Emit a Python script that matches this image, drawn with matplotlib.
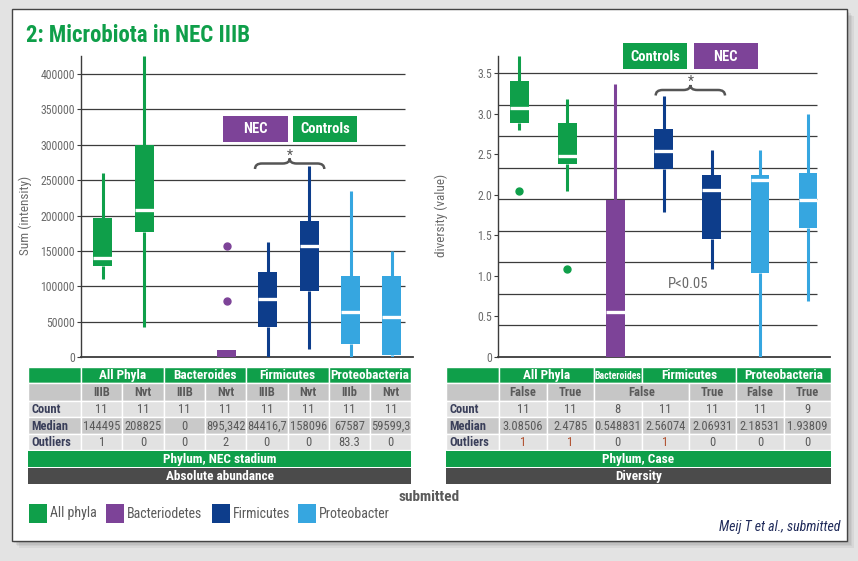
import numpy as np
import matplotlib
matplotlib.use("Agg")
import matplotlib.pyplot as plt
from matplotlib.patches import Rectangle, PathPatch
from matplotlib.path import Path
from matplotlib import font_manager

names = set(f.name for f in font_manager.fontManager.ttflist)
fam = [n for n in ['Roboto Condensed', 'Liberation Sans Narrow', 'Arial Narrow', 'Roboto'] if n in names]
plt.rcParams['font.family'] = fam + ['DejaVu Sans']

GREEN = '#0f9f4a'
PURPLE = '#7d4398'
DBLUE = '#0d3d8b'
LBLUE = '#36a6e0'
TXT = '#5a5a5a'
NAVY = '#3a3f5a'
GRID = '#3c3c3c'

# ---- absolute abundance (left panel) ----
ab_colors = [GREEN, GREEN, PURPLE, PURPLE, DBLUE, DBLUE, LBLUE, LBLUE]
ab_q1 = [128000, 176000, 0, 0, 42000, 93000, 18000, 3000]
ab_med = [140000, 208000, 0, 0, 82000, 157000, 64000, 57000]
ab_q3 = [197000, 300000, 0, 10000, 120000, 192000, 114000, 114000]
ab_lo = [110000, 42000, 0, 0, 0, 12000, 0, 0]
ab_hi = [260000, 425000, 0, 10000, 163000, 270000, 234000, 150000]
ab_fliers = [[], [], [], [157000, 79000], [], [], [], []]

ab_groups = ['All Phyla', 'Bacteroides', 'Firmicutes', 'Proteobacteria']
ab_group_span = [2, 2, 2, 2]
ab_sub = ['IIIB', 'Nvt', 'IIIB', 'Nvt', 'IIIB', 'Nvt', 'IIIb', 'Nvt']
ab_sub_span = [1, 1, 1, 1, 1, 1, 1, 1]
ab_count = ['11', '11', '11', '11', '11', '11', '11', '11']
ab_median = ['144495', '208825', '0', '895,342', '84416,7', '158096', '67587', '59599,3']
ab_outliers = ['1', '0', '0', '2', '0', '0', '83.3', '0']

# ---- diversity (right panel) ----
dv_colors = [GREEN, GREEN, PURPLE, DBLUE, DBLUE, LBLUE, LBLUE]
dv_q1 = [2.88, 2.38, 0.0, 2.32, 1.46, 1.04, 1.59]
dv_med = [3.07, 2.48, 0.55, 2.54, 2.06, 2.18, 1.93]
dv_q3 = [3.40, 2.88, 1.93, 2.81, 2.24, 2.24, 2.27]
dv_lo = [2.80, 2.05, 0.0, 1.79, 1.08, 0.0, 0.69]
dv_hi = [3.71, 3.18, 3.37, 3.22, 2.55, 2.55, 3.00]
dv_fliers = [[2.05], [1.08], [], [], [], [], []]

dv_groups = ['All Phyla', 'Bacteroides', 'Firmicutes', 'Proteobacteria']
dv_group_span = [2, 1, 2, 2]
dv_sub = ['False', 'True', 'False', 'True', 'False', 'True']
dv_sub_span = [1, 1, 2, 1, 1, 1]
dv_count = ['11', '11', '8', '11', '11', '11', '9']
dv_median = ['3.08506', '2.4785', '0.548831', '2.56074', '2.06931', '2.18531', '1.93809']
dv_outliers = ['1', '1', '0', '1', '0', '0', '0']

legend_names = ['All phyla', 'Bacteriodetes', 'Firmicutes', 'Proteobacter']
legend_colors = [GREEN, PURPLE, DBLUE, LBLUE]

W, H = 858, 561
fig = plt.figure(figsize=(W / 100, H / 100), dpi=100, facecolor='#e3e3e3')

bg = fig.add_axes([0, 0, 1, 1], zorder=0)
bg.set_xlim(0, W)
bg.set_ylim(H, 0)
bg.axis('off')

# card with shadow
for k, a in enumerate([0.10, 0.10, 0.12, 0.15]):
    off = 7 - k * 1.5
    bg.add_patch(Rectangle((11.5 + off, 9 + off), 835, 531.5, facecolor='#707070',
                           edgecolor='none', alpha=a))
bg.add_patch(Rectangle((11.5, 9), 835, 531.5, facecolor='white', edgecolor='#444444', lw=1))

bg.text(26, 35, '2: Microbiota in NEC IIIB', color=GREEN, fontsize=16.5,
        fontweight='bold', va='center', ha='left')


def pix_axes(x0, x1, y0, y1):
    return fig.add_axes([x0 / W, 1 - y1 / H, (x1 - x0) / W, (y1 - y0) / H], zorder=1)


def draw_boxes(ax, q1, med, q3, lo, hi, fliers, colors, width):
    stats = []
    for i in range(len(q1)):
        stats.append(dict(q1=q1[i], med=med[i], q3=q3[i], whislo=lo[i],
                          whishi=hi[i], fliers=fliers[i]))
    art = ax.bxp(stats, positions=range(len(stats)), widths=width, patch_artist=True,
                 showcaps=False, manage_ticks=False)
    for i, c in enumerate(colors):
        box = art['boxes'][i]
        box.set_facecolor(c)
        box.set_edgecolor('none')
        box.set_zorder(3)
        for w in art['whiskers'][2 * i:2 * i + 2]:
            w.set_color(c)
            w.set_linewidth(2.2)
            w.set_solid_capstyle('butt')
            w.set_zorder(3)
        m = art['medians'][i]
        m.set_color('white')
        m.set_linewidth(2.4)
        m.set_solid_capstyle('butt')
        m.set_zorder(4)
        f = art['fliers'][i]
        f.set_marker('o')
        f.set_markerfacecolor(c)
        f.set_markeredgecolor(c)
        f.set_markersize(5)
        if q3[i] == 0:
            box.set_visible(False)
            m.set_visible(False)
            for w in art['whiskers'][2 * i:2 * i + 2]:
                w.set_visible(False)
        if med[i] <= q1[i]:
            m.set_visible(False)


def style_axes(ax):
    ax.set_facecolor('none')
    for s in ['top', 'right']:
        ax.spines[s].set_visible(False)
    ax.spines['left'].set_color(GRID)
    ax.spines['left'].set_linewidth(1)
    ax.spines['bottom'].set_color(GRID)
    ax.spines['bottom'].set_linewidth(1.3)
    ax.set_xticks([])
    ax.tick_params(axis='y', length=3, color=GRID, labelcolor='#6a6a6a',
                   labelsize=8.5, pad=1.5)


# left panel
ax1 = pix_axes(81, 413, 56, 357)
style_axes(ax1)
ax1.set_xlim(-0.525, 7.51)
ax1.set_ylim(0, 425500)
yt = list(range(0, 400001, 50000))
ax1.set_yticks(yt)
ax1.set_yticklabels([str(v) for v in yt])
ax1.hlines(yt[1:], 0, 0.975, transform=ax1.get_yaxis_transform(), color=GRID, lw=0.9, zorder=1)
draw_boxes(ax1, ab_q1, ab_med, ab_q3, ab_lo, ab_hi, ab_fliers, ab_colors, 0.46)
ax1.set_ylabel('Sum (intensity)', color='#6a6a6a', fontsize=9.5)
ax1.yaxis.set_label_coords(-0.148, 0.47)

# right panel
ax2 = pix_axes(498, 830, 56, 357)
style_axes(ax2)
ax2.set_xlim(-0.443, 6.46)
ax2.set_ylim(0, 3.71)
yt2 = [0, 0.5, 1.0, 1.5, 2.0, 2.5, 3.0, 3.5]
ax2.set_yticks(yt2)
ax2.set_yticklabels(['0'] + ['%.1f' % v for v in yt2[1:]])
ax2.hlines(np.linspace(0, 3.5, 10)[1:], 0, 0.96, transform=ax2.get_yaxis_transform(),
           color=GRID, lw=0.9, zorder=1)
draw_boxes(ax2, dv_q1, dv_med, dv_q3, dv_lo, dv_hi, dv_fliers, dv_colors, 0.385)
ax2.set_ylabel('diversity (value)', color='#6a6a6a', fontsize=9.5)
ax2.yaxis.set_label_coords(-0.15, 0.47)


# badges, braces
def badge(x0, x1, y0, y1, txt, color):
    bg.add_patch(Rectangle((x0, y0), x1 - x0, y1 - y0, facecolor=color, edgecolor='none'))
    bg.text((x0 + x1) / 2, (y0 + y1) / 2 + 0.5, txt, color='white', fontsize=10.5,
            fontweight='bold', ha='center', va='center')


def brace(x0, x1, ytip, ybar, ypeak):
    xm = (x0 + x1) / 2
    verts = [(x0, ytip), (x0, ybar), (x0 + 7, ybar), (xm - 7, ybar), (xm, ybar), (xm, ypeak),
             (xm, ybar), (xm + 7, ybar), (x1 - 7, ybar), (x1, ybar), (x1, ytip)]
    codes = [Path.MOVETO, Path.CURVE3, Path.CURVE3, Path.LINETO, Path.CURVE3, Path.CURVE3,
             Path.CURVE3, Path.CURVE3, Path.LINETO, Path.CURVE3, Path.CURVE3]
    bg.add_patch(PathPatch(Path(verts, codes), facecolor='none', edgecolor='#555555', lw=1.8))
    bg.text(xm, ypeak - 3, '*', color='#555555', fontsize=10, ha='center', va='center')


badge(223.3, 287.7, 116, 141.7, 'NEC', PURPLE)
badge(293.3, 356.7, 116, 141.7, 'Controls', GREEN)
brace(255, 324.3, 169, 163.5, 158.5)

badge(623.3, 686.7, 43.3, 68.7, 'Controls', GREEN)
badge(694, 757.7, 43.3, 68.7, 'NEC', PURPLE)
brace(655.7, 725, 95.5, 90, 85)

bg.text(688, 284, 'P<0.05', color='#6a6a6a', fontsize=10.5, ha='center', va='center')


# tables
ROWS = [367, 383.3, 400.7, 417.3, 434, 450]
ROW_BG = [GREEN, '#c6c6c6', '#e2e2e2', '#c9c9c9', '#e2e2e2']


def cell(x0, x1, y0, y1, color, txt='', tcolor='white', bold=False, fs=9, ha='center'):
    bg.add_patch(Rectangle((x0, y0), x1 - x0, y1 - y0, facecolor=color, edgecolor='white', lw=1))
    if txt:
        tx = (x0 + x1) / 2 if ha == 'center' else x0 + 3
        bg.text(tx, (y0 + y1) / 2 + 0.5, txt, color=tcolor, fontsize=fs, ha=ha, va='center',
                fontweight='bold' if bold else 'normal')


def table(xl, edges, groups, gspan, subs, sspan, count, median, outl, outl_col,
          bar1, bar2, gfs):
    x0 = edges[0]
    for r in range(5):
        cell(xl, x0, ROWS[r], ROWS[r + 1], ROW_BG[r], ['', '', 'Count', 'Median', 'Outliers'][r],
             tcolor=NAVY, bold=True, ha='left', fs=9)
    k = 0
    for g, s in zip(groups, gspan):
        cell(edges[k], edges[k + s], ROWS[0], ROWS[1], GREEN, g, bold=True,
             fs=gfs if s == 1 else 9.5)
        k += s
    k = 0
    for g, s in zip(subs, sspan):
        cell(edges[k], edges[k + s], ROWS[1], ROWS[2], ROW_BG[1], g, tcolor=TXT, bold=True, fs=9)
        k += s
    for i in range(len(count)):
        cell(edges[i], edges[i + 1], ROWS[2], ROWS[3], ROW_BG[2], count[i], tcolor=TXT, fs=9)
        cell(edges[i], edges[i + 1], ROWS[3], ROWS[4], ROW_BG[3], median[i], tcolor=TXT, fs=9)
        cell(edges[i], edges[i + 1], ROWS[4], ROWS[5], ROW_BG[4], outl[i], tcolor=outl_col[i], fs=9)
    bg.add_patch(Rectangle((xl, 450.5), edges[-1] - xl, 16.2, facecolor=GREEN, edgecolor='none'))
    bg.text((xl + edges[-1]) / 2, 459, bar1, color='white', fontsize=9.5, fontweight='bold',
            ha='center', va='center')
    bg.add_patch(Rectangle((xl, 467.7), edges[-1] - xl, 16.3, facecolor='#4b4b4b', edgecolor='none'))
    bg.text((xl + edges[-1]) / 2, 476.3, bar2, color='white', fontsize=9.5, fontweight='bold',
            ha='center', va='center')


ab_edges = [81 + 41.3 * k for k in range(len(ab_count) + 1)]
table(28, ab_edges, ab_groups, ab_group_span, ab_sub, ab_sub_span, ab_count, ab_median,
      ab_outliers, [TXT] * len(ab_outliers), 'Phylum, NEC stadium', 'Absolute abundance', 9.5)

dv_edges = [499.3 + 47.4 * k for k in range(len(dv_count) + 1)]
dv_out_col = ['#b0502e' if v == '1' else TXT for v in dv_outliers]
table(446, dv_edges, dv_groups, dv_group_span, dv_sub, dv_sub_span, dv_count, dv_median,
      dv_outliers, dv_out_col, 'Phylum, Case', 'Diversity', 7)

# legend
bg.text(429, 496.5, 'submitted', color=TXT, fontsize=11, fontweight='bold', ha='center', va='center')
lx = [28.5, 106, 212, 298]
for x, name, c in zip(lx, legend_names, legend_colors):
    bg.add_patch(Rectangle((x, 504), 18, 18.5, facecolor=c, edgecolor='none'))
    bg.text(x + 21, 513.5, name, color=TXT, fontsize=10, ha='left', va='center')

bg.text(840, 527, 'Meij T et al., submitted', color='#1f2a5a', fontsize=10, style='italic',
        ha='right', va='center')

fig.savefig('out.png', dpi=100, facecolor=fig.get_facecolor())
